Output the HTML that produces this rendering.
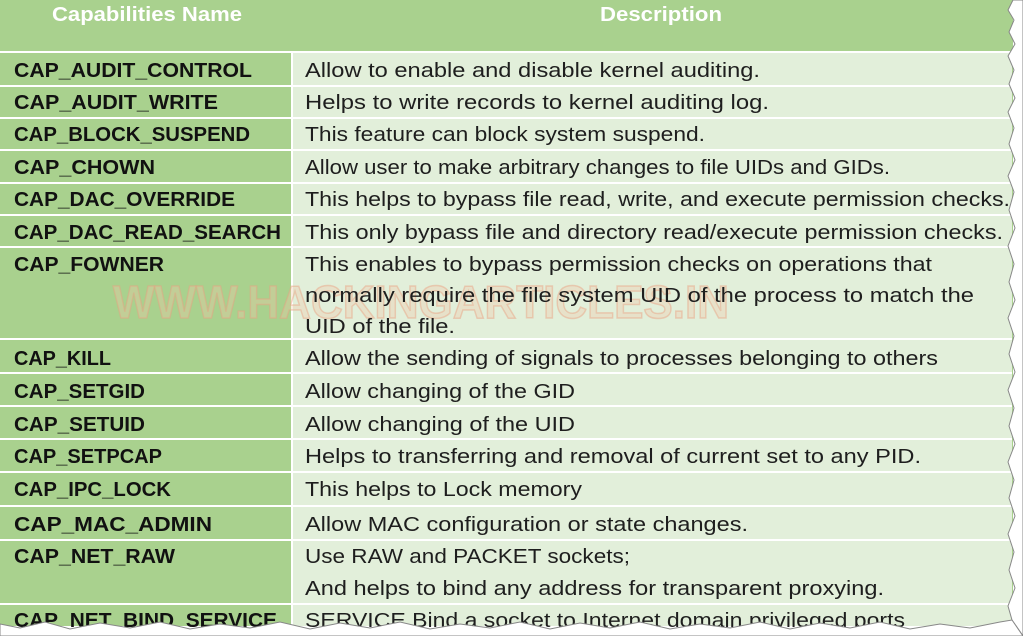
<!DOCTYPE html>
<html><head><meta charset="utf-8"><style>
html,body{margin:0;padding:0;background:#fff;width:1023px;height:636px;overflow:hidden}
svg{display:block}
text{font-family:"Liberation Sans",sans-serif;font-size:20px}
.n{font-weight:bold;fill:#111}
.d{fill:#1e1e1e}
</style></head><body>
<svg width="1023" height="636" viewBox="0 0 1023 636">
<rect x="0" y="0" width="1013" height="626" fill="#a9d18e"/>
<rect x="292" y="52" width="720" height="574" fill="#e2efda"/>
<g stroke="#ffffff" stroke-width="2">
<line x1="0" y1="52" x2="1012" y2="52"/>
<line x1="292" y1="52" x2="292" y2="626"/>
<line x1="0" y1="86" x2="1012" y2="86"/>
<line x1="0" y1="118" x2="1012" y2="118"/>
<line x1="0" y1="150" x2="1012" y2="150"/>
<line x1="0" y1="183" x2="1012" y2="183"/>
<line x1="0" y1="215" x2="1012" y2="215"/>
<line x1="0" y1="247" x2="1012" y2="247"/>
<line x1="0" y1="339" x2="1012" y2="339"/>
<line x1="0" y1="373" x2="1012" y2="373"/>
<line x1="0" y1="406" x2="1012" y2="406"/>
<line x1="0" y1="439" x2="1012" y2="439"/>
<line x1="0" y1="472" x2="1012" y2="472"/>
<line x1="0" y1="506" x2="1012" y2="506"/>
<line x1="0" y1="540" x2="1012" y2="540"/>
<line x1="0" y1="604" x2="1012" y2="604"/>
</g>
<text x="52" y="21" fill="#fff" font-weight="bold" textLength="190" lengthAdjust="spacingAndGlyphs">Capabilities Name</text>
<text x="600" y="21" fill="#fff" font-weight="bold" textLength="122" lengthAdjust="spacingAndGlyphs">Description</text>
<text x="113" y="318" style="font-size:46px" font-weight="bold" fill="#f2c8a8" fill-opacity="0.35" stroke="#e8a080" stroke-opacity="0.45" stroke-width="1.5" textLength="616" lengthAdjust="spacingAndGlyphs">WWW.HACKINGARTICLES.IN</text>
<g>
<text class="n" x="14" y="77" textLength="238" lengthAdjust="spacingAndGlyphs">CAP_AUDIT_CONTROL</text>
<text class="n" x="14" y="109" textLength="204" lengthAdjust="spacingAndGlyphs">CAP_AUDIT_WRITE</text>
<text class="n" x="14" y="141" textLength="236" lengthAdjust="spacingAndGlyphs">CAP_BLOCK_SUSPEND</text>
<text class="n" x="14" y="174" textLength="141" lengthAdjust="spacingAndGlyphs">CAP_CHOWN</text>
<text class="n" x="14" y="206" textLength="221" lengthAdjust="spacingAndGlyphs">CAP_DAC_OVERRIDE</text>
<text class="n" x="14" y="239" textLength="267" lengthAdjust="spacingAndGlyphs">CAP_DAC_READ_SEARCH</text>
<text class="n" x="14" y="271" textLength="150" lengthAdjust="spacingAndGlyphs">CAP_FOWNER</text>
<text class="n" x="14" y="365" textLength="97" lengthAdjust="spacingAndGlyphs">CAP_KILL</text>
<text class="n" x="14" y="398" textLength="131" lengthAdjust="spacingAndGlyphs">CAP_SETGID</text>
<text class="n" x="14" y="431" textLength="131" lengthAdjust="spacingAndGlyphs">CAP_SETUID</text>
<text class="n" x="14" y="463" textLength="148" lengthAdjust="spacingAndGlyphs">CAP_SETPCAP</text>
<text class="n" x="14" y="496" textLength="157" lengthAdjust="spacingAndGlyphs">CAP_IPC_LOCK</text>
<text class="n" x="14" y="531" textLength="198" lengthAdjust="spacingAndGlyphs">CAP_MAC_ADMIN</text>
<text class="n" x="14" y="563" textLength="161" lengthAdjust="spacingAndGlyphs">CAP_NET_RAW</text>
<text class="n" x="14" y="627" textLength="263" lengthAdjust="spacingAndGlyphs">CAP_NET_BIND_SERVICE</text>
</g>
<g>
<text class="d" x="305" y="77" textLength="455" lengthAdjust="spacingAndGlyphs">Allow to enable and disable kernel auditing.</text>
<text class="d" x="305" y="109" textLength="464" lengthAdjust="spacingAndGlyphs">Helps to write records to kernel auditing log.</text>
<text class="d" x="305" y="141" textLength="400" lengthAdjust="spacingAndGlyphs">This feature can block system suspend.</text>
<text class="d" x="305" y="174" textLength="585" lengthAdjust="spacingAndGlyphs">Allow user to make arbitrary changes to file UIDs and GIDs.</text>
<text class="d" x="305" y="206" textLength="705" lengthAdjust="spacingAndGlyphs">This helps to bypass file read, write, and execute permission checks.</text>
<text class="d" x="305" y="239" textLength="698" lengthAdjust="spacingAndGlyphs">This only bypass file and directory read/execute permission checks.</text>
<text class="d" x="305" y="271" textLength="627" lengthAdjust="spacingAndGlyphs">This enables to bypass permission checks on operations that</text>
<text class="d" x="305" y="302" textLength="669" lengthAdjust="spacingAndGlyphs">normally require the file system UID of the process to match the</text>
<text class="d" x="305" y="333" textLength="150" lengthAdjust="spacingAndGlyphs">UID of the file.</text>
<text class="d" x="305" y="365" textLength="633" lengthAdjust="spacingAndGlyphs">Allow the sending of signals to processes belonging to others</text>
<text class="d" x="305" y="398" textLength="270" lengthAdjust="spacingAndGlyphs">Allow changing of the GID</text>
<text class="d" x="305" y="431" textLength="270" lengthAdjust="spacingAndGlyphs">Allow changing of the UID</text>
<text class="d" x="305" y="463" textLength="616" lengthAdjust="spacingAndGlyphs">Helps to transferring and removal of current set to any PID.</text>
<text class="d" x="305" y="496" textLength="277" lengthAdjust="spacingAndGlyphs">This helps to Lock memory</text>
<text class="d" x="305" y="531" textLength="443" lengthAdjust="spacingAndGlyphs">Allow MAC configuration or state changes.</text>
<text class="d" x="305" y="563" textLength="325" lengthAdjust="spacingAndGlyphs">Use RAW and PACKET sockets;</text>
<text class="d" x="305" y="595" textLength="579" lengthAdjust="spacingAndGlyphs">And helps to bind any address for transparent proxying.</text>
<text class="d" x="305" y="627" textLength="600" lengthAdjust="spacingAndGlyphs">SERVICE Bind a socket to Internet domain privileged ports</text>
</g>
<path d="M1013,0 L1008,10 L1014,20 L1009,32 L1015,44 L1008,56 L1014,70 L1009,84 L1015,98 L1008,112 L1014,128 L1009,144 L1015,160 L1008,176 L1014,192 L1009,210 L1015,228 L1008,246 L1014,264 L1009,282 L1015,300 L1008,318 L1014,336 L1009,354 L1015,372 L1008,390 L1014,408 L1009,426 L1015,444 L1008,462 L1014,480 L1009,498 L1015,516 L1008,534 L1014,552 L1009,570 L1015,588 L1008,606 L1012,620 L1023,636 L1023,0 Z" fill="#fff" stroke="#888" stroke-width="1"/>
<path d="M0,624 L20,628 L45,622 L70,629 L100,623 L130,628 L160,622 L190,629 L220,624 L250,628 L280,622 L310,629 L340,623 L370,628 L400,622 L430,629 L460,624 L490,628 L520,622 L550,629 L580,623 L610,628 L640,622 L670,629 L700,624 L730,628 L760,622 L790,629 L820,623 L850,628 L880,622 L910,629 L940,624 L970,628 L1000,622 L1012,620 L1023,636 L0,636 Z" fill="#fff" stroke="#888" stroke-width="1"/>
</svg>
</body></html>
